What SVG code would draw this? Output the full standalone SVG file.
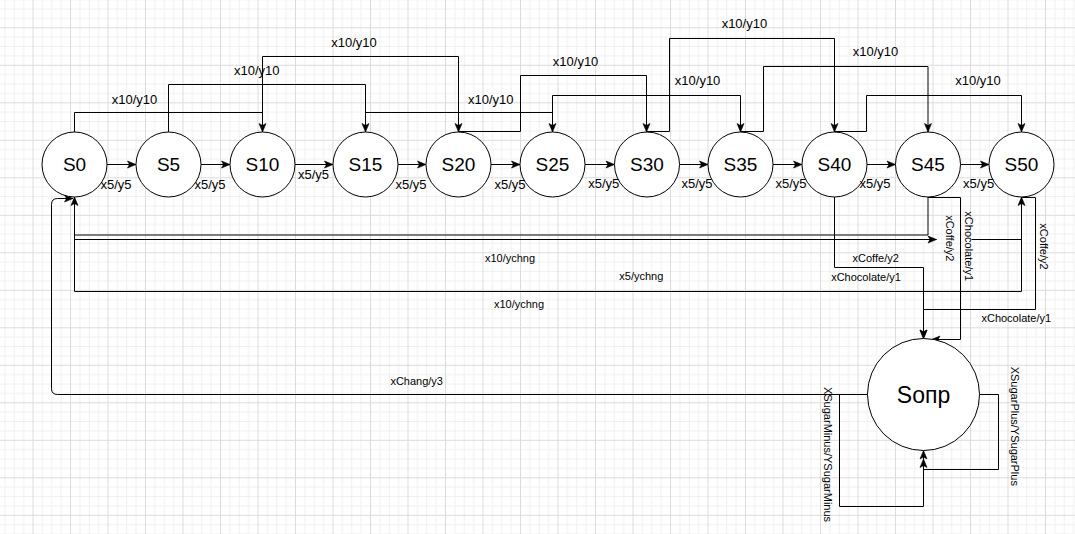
<svg xmlns="http://www.w3.org/2000/svg" width="1075" height="534" viewBox="0 0 1075 534">
<style>
.n circle{fill:#fff;stroke:#000;stroke-width:1}
.n text{font-family:"Liberation Sans",Arial,sans-serif;font-size:19px;fill:#000;text-anchor:middle}
.c path{fill:none;stroke:#000;stroke-width:1}
.c path.m{marker-end:url(#a)}
.l{font-family:"Liberation Sans",Arial,sans-serif;font-size:11px;fill:#000;text-anchor:middle}
.t{font-size:13px}
</style>
<defs>
<marker id="a" viewBox="-10 -5 11 10" refX="0" refY="0" markerWidth="11" markerHeight="10" markerUnits="userSpaceOnUse" orient="auto">
<path d="M0,0 L-8.5,-3.5 L-6.5,0 L-8.5,3.5 z" fill="#000" stroke="#000" stroke-width="0.6"/>
</marker>
<pattern id="g" x="32.5" y="27.3" width="37.5" height="37.5" patternUnits="userSpaceOnUse">
<rect x="9.375" y="0" width="1" height="37.5" fill="#f0f0f0"/>
<rect x="18.75" y="0" width="1" height="37.5" fill="#f0f0f0"/>
<rect x="28.125" y="0" width="1" height="37.5" fill="#f0f0f0"/>
<rect x="0" y="9.375" width="37.5" height="1" fill="#f0f0f0"/>
<rect x="0" y="18.75" width="37.5" height="1" fill="#f0f0f0"/>
<rect x="0" y="28.125" width="37.5" height="1" fill="#f0f0f0"/>
<rect x="0" y="0" width="1" height="37.5" fill="#dcdcdc"/>
<rect x="0" y="0" width="37.5" height="1" fill="#dcdcdc"/>
</pattern>
</defs>
<rect width="1075" height="534" fill="#fff"/>
<rect width="1075" height="534" fill="url(#g)"/>

<g id="connectors" class="c">
<!-- x5/y5 chain -->
<path class="m" d="M107,164.5 H136"/>
<path class="m" d="M201,164.5 H230"/>
<path class="m" d="M295,164.5 H333"/>
<path class="m" d="M398,164.5 H426"/>
<path class="m" d="M491,164.5 H520"/>
<path class="m" d="M585,164.5 H614.5"/>
<path class="m" d="M679.5,164.5 H708"/>
<path class="m" d="M773,164.5 H802"/>
<path class="m" d="M867,164.5 H895.5"/>
<path class="m" d="M960.5,164.5 H989"/>
<!-- x10/y10 -->
<path class="m" d="M74.5,132 V112.5 H262.5 V132"/>
<path class="m" d="M168.5,132 V84.5 H365.5 V132"/>
<path class="m" d="M262.5,132 V56.5 H458.5 V132"/>
<path class="m" d="M365.5,132 V112.5 H552.5 V132"/>
<path class="m" d="M458.5,131.5 H520.5 V75.5 H646.5 V132"/>
<path class="m" d="M552.5,132 V95.5 H740.5 V132"/>
<path class="m" d="M646.5,131.5 H669.5 V38.5 H834.5 V132"/>
<path class="m" d="M740.5,131.5 H763.5 V66.5 H928 V132"/>
<path class="m" d="M834.5,131.5 H866.5 V95.5 H1021.5 V132"/>
<!-- change back to S0 / S50 -->
<path class="m" d="M928,197 V235 H74.5 V197"/>
<path class="m" d="M74.5,239.5 H936.5"/>
<path d="M971.5,239.5 H1021.5"/>
<path class="m" d="M74.5,197 V291.5 H1021.5 V197"/>
<!-- to Sопр -->
<path class="m" d="M834.5,197 V267.5 H923.5 V338.5"/>
<path class="m" d="M928,197.5 H960.5 V339.5 H931.5"/>
<path class="m" d="M1021.5,197.5 H1035.5 V309.5 H923.5 V338.5"/>
<!-- xChang -->
<path class="m" d="M867.5,394.5 H57.5 Q51.5,394.5 51.5,388.5 V204.5 Q51.5,198.5 57.5,198.5 H73"/>
<!-- sugar loops -->
<path class="m" d="M867.5,394.5 H839.5 V506.5 H923.5 V450.5"/>
<path class="m" d="M979.5,394.5 H998.5 V469.5 H923.5 V459"/>
</g>

<g id="S0" class="n"><circle cx="74.5" cy="164.5" r="32.5"/><text x="74.5" y="171.3">S0</text></g>
<g id="S5" class="n"><circle cx="168.5" cy="164.5" r="32.5"/><text x="168.5" y="171.3">S5</text></g>
<g id="S10" class="n"><circle cx="262.5" cy="164.5" r="32.5"/><text x="262.5" y="171.3">S10</text></g>
<g id="S15" class="n"><circle cx="365.5" cy="164.5" r="32.5"/><text x="365.5" y="171.3">S15</text></g>
<g id="S20" class="n"><circle cx="458.5" cy="164.5" r="32.5"/><text x="458.5" y="171.3">S20</text></g>
<g id="S25" class="n"><circle cx="552.5" cy="164.5" r="32.5"/><text x="552.5" y="171.3">S25</text></g>
<g id="S30" class="n"><circle cx="647" cy="164.5" r="32.5"/><text x="647" y="171.3">S30</text></g>
<g id="S35" class="n"><circle cx="740.5" cy="164.5" r="32.5"/><text x="740.5" y="171.3">S35</text></g>
<g id="S40" class="n"><circle cx="834.5" cy="164.5" r="32.5"/><text x="834.5" y="171.3">S40</text></g>
<g id="S45" class="n"><circle cx="928" cy="164.5" r="32.5"/><text x="928" y="171.3">S45</text></g>
<g id="S50" class="n"><circle cx="1021.5" cy="164.5" r="32.5"/><text x="1021.5" y="171.3">S50</text></g>
<g id="Sopr" class="n"><circle cx="923.5" cy="394.5" r="56"/><text x="923.5" y="402.5" style="font-size:23px">Sопр</text></g>

<g id="labels">
<text class="l t" x="134.5" y="103.5">x10/y10</text>
<text class="l t" x="256.7" y="75.2">x10/y10</text>
<text class="l t" x="354" y="47.2">x10/y10</text>
<text class="l t" x="490.8" y="103.5">x10/y10</text>
<text class="l t" x="575.6" y="66.2">x10/y10</text>
<text class="l t" x="697.6" y="85.2">x10/y10</text>
<text class="l t" x="744.4" y="27.8">x10/y10</text>
<text class="l t" x="875.5" y="56.2">x10/y10</text>
<text class="l t" x="978" y="85.2">x10/y10</text>

<text class="l t" x="116" y="188.8">x5/y5</text>
<text class="l t" x="210" y="188.8">x5/y5</text>
<text class="l t" x="313.5" y="178.5">x5/y5</text>
<text class="l t" x="411" y="188.8">x5/y5</text>
<text class="l t" x="510" y="188.8">x5/y5</text>
<text class="l t" x="603.7" y="187.5">x5/y5</text>
<text class="l t" x="697" y="187.5">x5/y5</text>
<text class="l t" x="791" y="187.5">x5/y5</text>
<text class="l t" x="875" y="187.5">x5/y5</text>
<text class="l t" x="978.6" y="187.5">x5/y5</text>

<text class="l" x="510" y="262.2">x10/ychng</text>
<text class="l" x="641.3" y="279.9">x5/ychng</text>
<text class="l" x="519" y="308.2">x10/ychng</text>
<text class="l" x="875.7" y="262.2">xCoffe/y2</text>
<text class="l" x="866" y="280.6">xChocolate/y1</text>
<text class="l" x="1016.3" y="321.6">xChocolate/y1</text>
<text class="l" x="416.7" y="384.6">xChang/y3</text>
<text class="l" transform="translate(950,238.3) rotate(90)" y="3.9">xCoffe/y2</text>
<text class="l" transform="translate(969,246.2) rotate(90)" y="3.9">xChocolate/y1</text>
<text class="l" transform="translate(1043.5,246.5) rotate(90)" y="3.9">xCoffe/y2</text>
<text class="l" transform="translate(828.3,454.5) rotate(90)" y="3.9">XSugarMinus/YSugarMinus</text>
<text class="l" transform="translate(1015,426.3) rotate(90)" y="3.9">XSugarPlus/YSugarPlus</text>
</g>
</svg>
